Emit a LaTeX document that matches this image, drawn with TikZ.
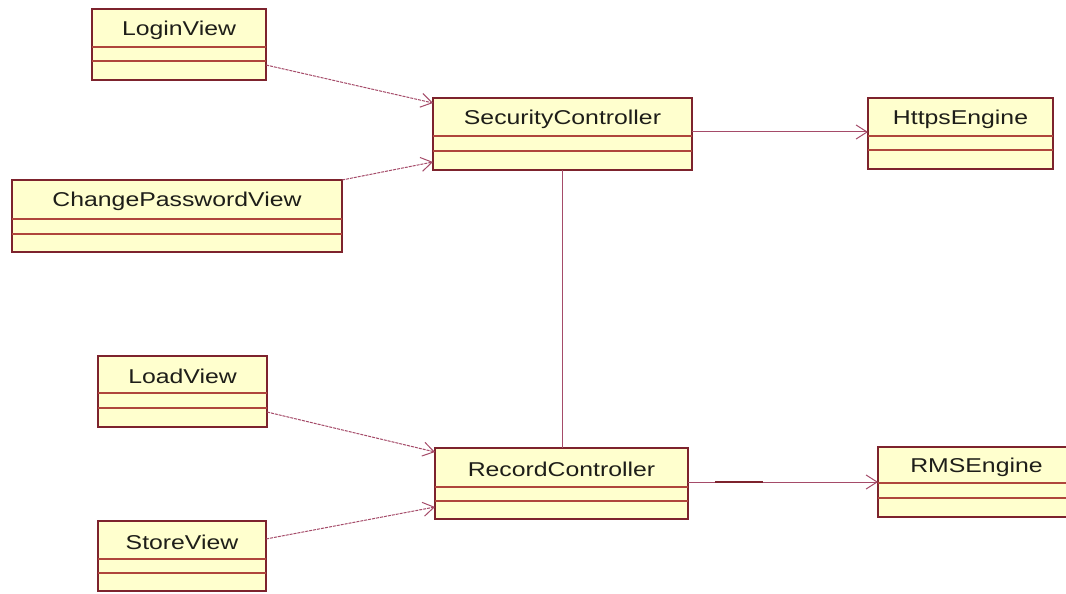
\documentclass[tikz,border=0pt]{standalone}
\usepackage{fontspec}
\setmainfont{Liberation Sans}
\usetikzlibrary{arrows.meta}
\definecolor{boxfill}{RGB}{255,255,206}
\definecolor{boxline}{RGB}{125,35,45}
\definecolor{sepline}{RGB}{175,70,60}
\definecolor{connline}{RGB}{165,75,105}
\definecolor{txt}{RGB}{30,30,25}
\tikzset{
  cls/.style={draw=boxline, fill=boxfill, line width=1.6bp, rectangle, inner sep=0pt, outer sep=0pt},
  sep/.style={draw=sepline, line width=1.4bp},
  lbl/.style={text=txt, inner sep=0pt, font=\fontsize{20bp}{23bp}\selectfont},
  conn/.style={draw=connline, line width=1bp, -{Straight Barb[length=11bp,width=14bp,line width=1bp]}},
  dep/.style={conn, dash pattern=on 3bp off 1bp},
  plain/.style={draw=connline, line width=1bp}
}
\newcommand\umlbox[8]{%
  \node[cls, minimum width={(#4-#2)*1bp}, minimum height={(#5-#3)*1bp}] (#1) at ({(#2+#4)/2},{(#3+#5)/2}) {};
  \draw[sep] (#2,#6) -- (#4,#6);
  \draw[sep] (#2,#7) -- (#4,#7);
  \node[lbl] (#1-t) at ({(#2+#4)/2},{(#3+#6)/2+2}) {\scalebox{1.24}[1]{#8}};
}
\begin{document}
\begin{tikzpicture}[x=1bp,y=-1bp]
\useasboundingbox[fill=white] (0,0) rectangle (1066,594);
\umlbox{LV}{92}{9}{266}{80}{47}{61}{LoginView}
\umlbox{CPV}{12}{180}{342}{252}{219}{234}{ChangePasswordView}
\umlbox{SC}{433}{98}{692}{170}{136}{151}{SecurityController}
\umlbox{HE}{868}{98}{1053}{169}{136}{150}{HttpsEngine}
\umlbox{LDV}{98}{356}{267}{427}{393}{408}{LoadView}
\umlbox{SV}{98}{521}{266}{591}{559}{573}{StoreView}
\umlbox{RC}{435}{448}{688}{519}{487}{501}{RecordController}
\umlbox{RE}{878}{447}{1075}{517}{483}{498}{RMSEngine}
% connectors
\draw[dep] ([yshift=-20.5bp]LV.east) -- ([yshift=31bp]SC.west);
\draw[dep] (CPV.north east) -- ([yshift=-28bp]SC.west);
\draw[conn] ([yshift=2bp]SC.east) -- ([yshift=2bp]SC.east -| HE.west);
\draw[plain] (SC.south) -- (SC.south |- RC.north);
\draw[dep] ([yshift=-20.5bp]LDV.east) -- ([yshift=31.5bp]RC.west);
\draw[dep] ([yshift=17bp]SV.east) -- ([yshift=-23.5bp]RC.west);
\draw[conn] ([yshift=1.5bp]RC.east) -- ([yshift=1.5bp]RC.east -| RE.west);
\draw[draw=boxline, line width=2bp] ([xshift=27bp,yshift=1.5bp]RC.east) -- ++(48bp,0);
\end{tikzpicture}
\end{document}
